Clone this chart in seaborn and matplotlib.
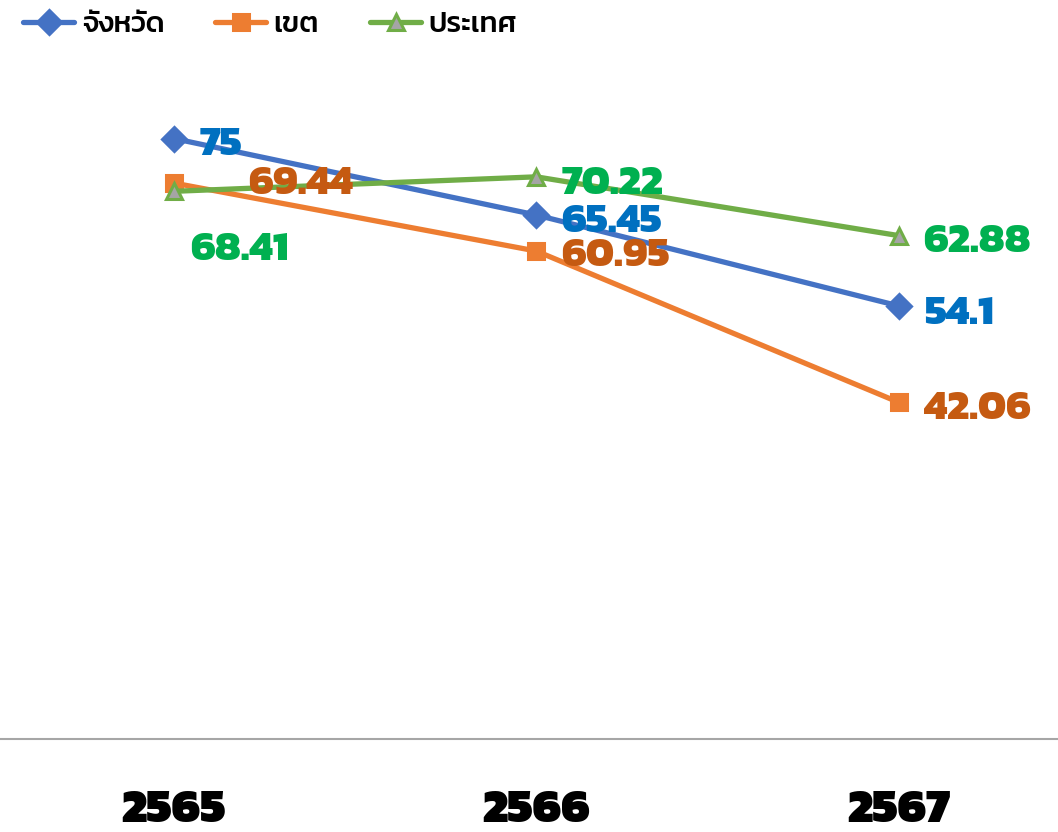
import matplotlib
matplotlib.use('Agg')

import matplotlib.pyplot as plt
from matplotlib import font_manager
import seaborn as sb
import pandas as pd

years = ['2565', '2566', '2567']
series_names = ['จังหวัด', 'เขต', 'ประเทศ']
province = [75, 65.45, 54.1]
region = [69.44, 60.95, 42.06]
country = [68.41, 70.22, 62.88]

line_colors = ['#4472C4', '#ED7D31', '#70AD47']
label_colors = ['#0070C0', '#C55A11', '#00B050']
markers = ['D', 's', '^']
face_colors = ['#4472C4', '#ED7D31', '#A5A5A5']
# label offsets in pixels (dx, dy) per series per point
offsets = [
    [(26, -2), (25, -3), (25, -4)],
    [(74, 3), (25, -1), (25, -3)],
    [(16, -55), (25, -3), (25, -2)],
]

installed = {f.name for f in font_manager.fontManager.ttflist}
thai = next((n for n in ['Kanit', 'Bai Jamjuree', 'Athiti', 'Loma'] if n in installed), 'DejaVu Sans')

sb.set_style('white')
plt.rcParams['font.family'] = [thai, 'DejaVu Sans']

rows = []
for name, vals in zip(series_names, [province, region, country]):
    for yr, v in zip(years, vals):
        rows.append({'year': yr, 'value': v, 'series': name})
df = pd.DataFrame(rows)

fig = plt.figure(figsize=(10.58, 8.32), dpi=100)
ax = fig.add_axes([0, 0.1118, 1, 0.866])

for i, name in enumerate(series_names):
    d = df[df['series'] == name]
    sb.lineplot(data=d, x='year', y='value', ax=ax, color=line_colors[i],
                linewidth=3.8, marker=markers[i], markersize=12,
                markerfacecolor=face_colors[i], markeredgecolor=line_colors[i],
                markeredgewidth=2.2, label=name)
    for j, v in enumerate(d['value']):
        dx, dy = offsets[i][j]
        ax.annotate(f'{v:g}', (j, v), xytext=(dx, dy), textcoords='offset pixels',
                    ha='left', va='center_baseline', fontsize=30, fontweight='heavy',
                    color=label_colors[i])

ax.set_ylim(0, 90)
ax.set_xlim(-0.48, 2.44)
ax.set_xlabel('')
ax.set_ylabel('')
ax.set_yticks([])
ax.tick_params(axis='x', length=0, pad=36, labelsize=34, labelcolor='black')
for lab in ax.get_xticklabels():
    lab.set_fontweight('black')
for s in ['top', 'left', 'right']:
    ax.spines[s].set_visible(False)
ax.spines['bottom'].set_color('#A6A6A6')
ax.spines['bottom'].set_linewidth(1.5)

leg = ax.legend(loc='upper left', bbox_to_anchor=(0.011, 1.0), bbox_transform=fig.transFigure,
                ncol=3, frameon=False, fontsize=21, handlelength=1.75, columnspacing=1.75,
                handletextpad=0.25, borderaxespad=0.0)
for t in leg.get_texts():
    t.set_fontweight('medium')
    t.set_color('black')

fig.savefig('out.png', dpi=100)
